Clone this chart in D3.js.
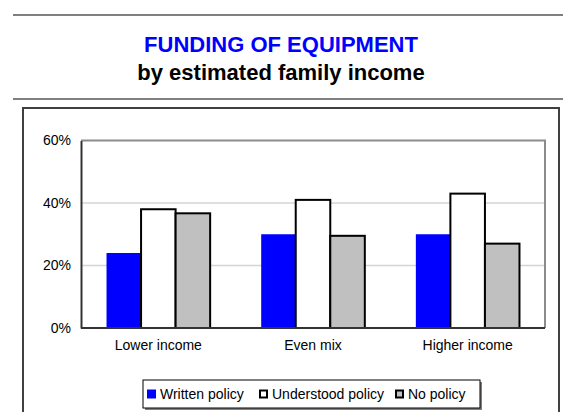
<!DOCTYPE html>
<html>
<head>
<meta charset="utf-8">
<script src="https://cdn.jsdelivr.net/npm/d3@7"></script>
<style>
  html, body { margin: 0; padding: 0; background: #fff; }
  svg { display: block; font-family: "Liberation Sans", Arial, sans-serif; }
</style>
</head>
<body>
<svg id="chart" width="563" height="412"></svg>
<script>
// Share of programmes funding equipment, by estimated family income
const categories = ["Lower income", "Even mix", "Higher income"];
const seriesNames = ["Written policy", "Understood policy", "No policy"];
const writtenPolicy = [0.24, 0.30, 0.30];
const understoodPolicy = [0.38, 0.41, 0.43];
const noPolicy = [0.367, 0.295, 0.27];
const yTicks = [0, 0.2, 0.4, 0.6];

const seriesValues = [writtenPolicy, understoodPolicy, noPolicy];
const seriesFill = ["#0000ff", "#ffffff", "#c0c0c0"];
const seriesStroke = ["none", "#000", "#000"];

const svg = d3.select("#chart");

// header rules and titles
svg.append("line").attr("x1", 13).attr("x2", 563).attr("y1", 15).attr("y2", 15)
  .attr("stroke", "#808080").attr("stroke-width", 2);
svg.append("line").attr("x1", 13).attr("x2", 563).attr("y1", 99).attr("y2", 99)
  .attr("stroke", "#808080").attr("stroke-width", 2);
svg.append("text").attr("x", 281).attr("y", 52).attr("text-anchor", "middle")
  .attr("font-size", 22).attr("font-weight", "bold").attr("fill", "#0000ff")
  .text("FUNDING OF EQUIPMENT");
svg.append("text").attr("x", 281).attr("y", 80).attr("text-anchor", "middle")
  .attr("font-size", 22).attr("font-weight", "bold").attr("fill", "#000")
  .text("by estimated family income");

// chart frame
svg.append("rect").attr("x", 23).attr("y", 108).attr("width", 536).attr("height", 320)
  .attr("fill", "none").attr("stroke", "#404040").attr("stroke-width", 2);

const plot = { left: 81, right: 545, top: 140.5, bottom: 328 };

const x0 = d3.scaleBand().domain(categories)
  .range([plot.left, plot.right]).paddingInner(0.33).paddingOuter(0.165);
const x1 = d3.scaleBand().domain(d3.range(seriesNames.length))
  .range([0, x0.bandwidth()]).padding(0);
const y = d3.scaleLinear().domain([0, 0.6]).range([plot.bottom, plot.top]);

// gridlines
svg.append("g").selectAll("line").data(yTicks.filter(t => t > 0 && t < 0.6)).join("line")
  .attr("x1", plot.left).attr("x2", plot.right)
  .attr("y1", d => y(d)).attr("y2", d => y(d))
  .attr("stroke", "#d4d4d4").attr("stroke-width", 1.5);

// plot-area border (top and right)
svg.append("path")
  .attr("d", `M${plot.left},${y(0.6)}H${plot.right}V${plot.bottom}`)
  .attr("fill", "none").attr("stroke", "#8c8c8c").attr("stroke-width", 2);

// bars
const groups = svg.append("g").selectAll("g").data(categories).join("g")
  .attr("transform", d => `translate(${x0(d)},0)`);
groups.selectAll("rect")
  .data((c, ci) => seriesValues.map((vals, si) => ({ si, v: vals[ci] })))
  .join("rect")
  .attr("x", d => x1(d.si))
  .attr("y", d => y(d.v))
  .attr("width", x1.bandwidth())
  .attr("height", d => y(0) - y(d.v))
  .attr("fill", d => seriesFill[d.si])
  .attr("stroke", d => seriesStroke[d.si])
  .attr("stroke-width", 2);

// y axis
const yAxis = svg.append("g").attr("transform", `translate(${plot.left},0)`)
  .call(d3.axisLeft(y).tickValues(yTicks).tickFormat(d3.format(".0%")).tickSize(0).tickPadding(10));
yAxis.select(".domain").attr("stroke", "#333").attr("stroke-width", 2);
yAxis.selectAll("text").attr("font-size", 14).attr("fill", "#000")
  .attr("font-family", "Liberation Sans, Arial, sans-serif");

// x axis
const xAxis = svg.append("g").attr("transform", `translate(0,${plot.bottom})`)
  .call(d3.axisBottom(x0).tickSize(0).tickPadding(12));
xAxis.select(".domain").attr("stroke", "#333").attr("stroke-width", 2)
  .attr("d", `M${plot.left},0H${plot.right}`);
xAxis.selectAll("text").attr("font-size", 14).attr("fill", "#000")
  .attr("font-family", "Liberation Sans, Arial, sans-serif");

// legend
const legend = svg.append("g");
legend.append("rect").attr("x", 145).attr("y", 382).attr("width", 337).attr("height", 28)
  .attr("fill", "#808080");
legend.append("rect").attr("x", 143).attr("y", 380).attr("width", 337).attr("height", 28)
  .attr("fill", "#fff").attr("stroke", "#000").attr("stroke-width", 1);
const legendX = [147, 259, 395];
const items = legend.selectAll("g.item").data(seriesNames).join("g").attr("class", "item")
  .attr("transform", (d, i) => `translate(${legendX[i]},0)`);
items.append("rect")
  .attr("x", (d, i) => i === 0 ? 0 : 1)
  .attr("y", (d, i) => i === 0 ? 389.5 : 390.5)
  .attr("width", (d, i) => i === 0 ? 9 : 7)
  .attr("height", (d, i) => i === 0 ? 9 : 7)
  .attr("fill", (d, i) => seriesFill[i])
  .attr("stroke", (d, i) => seriesStroke[i])
  .attr("stroke-width", 2);
items.append("text").attr("x", 13).attr("y", 399)
  .attr("font-size", 14).attr("fill", "#000").text(d => d);
</script>
</body>
</html>
